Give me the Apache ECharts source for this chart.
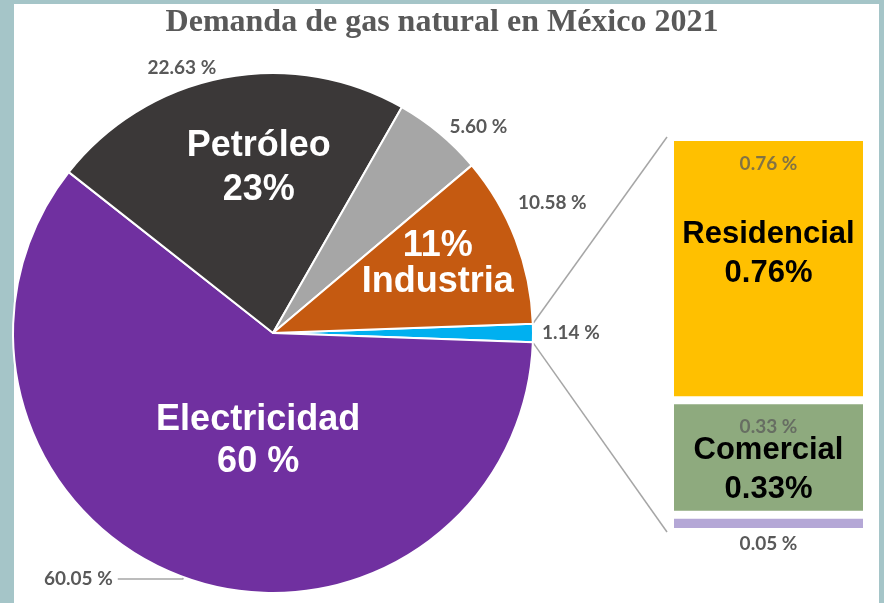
<!DOCTYPE html>
<html>
<head>
<meta charset="utf-8">
<script src="https://cdn.jsdelivr.net/npm/echarts@6/dist/echarts.min.js"></script>
<style>
html,body{margin:0;padding:0;background:#a5c5c8;}
#main{width:884px;height:603px;}
</style>
</head>
<body>
<div id="main"></div>
<script>
// sectores del pastel, en sentido horario desde la rebanada azul
const sectores = ['Residencial y comercial', 'Electricidad', 'Petróleo', 'Otros', 'Industria'];
const demanda = [1.14, 60.05, 22.63, 5.60, 10.58];
const etiquetas = ['', 'Electricidad\n60 %', 'Petróleo\n23%', '', '11%\nIndustria'];
const colores = ['#00b0f0', '#7030a0', '#3b3838', '#a6a6a6', '#c55a11'];

// desglose de la rebanada azul (de abajo hacia arriba)
const desglose = ['Otro', 'Comercial', 'Residencial'];
const demandaDesglose = [0.05, 0.33, 0.76];
const etiquetasDesglose = ['', 'Comercial\n0.33%', 'Residencial\n0.76%'];
const coloresDesglose = ['#b4a7d6', '#8eaa7e', '#ffc000'];

const cx = 273, cy = 333, R = 260;
const barra = {left: 670, top: 137, width: 197, height: 395};

const total = demanda.reduce((a, b) => a + b, 0);
const totalDesglose = demandaDesglose.reduce((a, b) => a + b, 0);
const inicio = demanda[0] / total * 180;   // la rebanada azul queda centrada a la derecha
const rad = inicio * Math.PI / 180;

const chart = echarts.init(document.getElementById('main'));

const gris = '#595959';
const fuenteChica = {fontFamily: 'Lato', fontWeight: 'bold', fontSize: 19, color: gris};

// ajustes de cada etiqueta del pastel
const lineas = [
    {show: false, length: 4, length2: 0},
    {show: true, length: 2, length2: 65},
    {show: false, length: 10, length2: 0},
    {show: false, length: 8, length2: 0},
    {show: false, length: 10, length2: 0}
];
const desplaza = [[0, 0], [43, -50], [18, 0], [0, 0], [8, -8]];
const altoLinea = [42, 42, 44, 42, 36];

chart.setOption({
    title: {
        text: 'Demanda de gas natural en México 2021',
        left: 'center',
        top: 2,
        textStyle: {fontFamily: 'Liberation Serif', fontWeight: 'bold', fontSize: 32, color: gris}
    },
    graphic: [
        {type: 'rect', z: -10, shape: {x: 14, y: 4, width: 865, height: 600}, style: {fill: '#fff'}},
        {type: 'line', shape: {x1: cx + R * Math.cos(rad), y1: cy - R * Math.sin(rad), x2: barra.left - 3, y2: barra.top},
            style: {stroke: '#a6a6a6', lineWidth: 1.5}},
        {type: 'line', shape: {x1: cx + R * Math.cos(rad), y1: cy + R * Math.sin(rad), x2: barra.left - 3, y2: barra.top + barra.height},
            style: {stroke: '#a6a6a6', lineWidth: 1.5}}
    ],
    grid: barra,
    xAxis: {type: 'category', data: ['desglose'], show: false},
    yAxis: {type: 'value', min: 0, max: totalDesglose, show: false},
    series: [
        {
            type: 'pie',
            center: [cx, cy],
            radius: R,
            startAngle: inicio,
            clockwise: true,
            avoidLabelOverlap: false,
            silent: true,
            itemStyle: {borderColor: '#fff', borderWidth: 2},
            label: Object.assign({position: 'outside', formatter: p => p.value.toFixed(2) + ' %'}, fuenteChica),
            labelLine: {lineStyle: {color: '#a6a6a6', width: 1.5}},
            labelLayout: p => p.dataIndex === 4 ? {dx: -12, dy: -33} : {},
            data: sectores.map((n, i) => ({
                name: n, value: demanda[i],
                itemStyle: {color: colores[i]},
                labelLine: lineas[i]
            }))
        },
        {
            // solo las etiquetas grandes
            type: 'pie',
            center: [cx, cy],
            radius: 330,
            startAngle: inicio,
            clockwise: true,
            silent: true,
            itemStyle: {color: 'rgba(0,0,0,0)', borderWidth: 0},
            label: {
                position: 'inside',
                formatter: p => etiquetas[p.dataIndex],
                fontFamily: 'Liberation Sans', fontWeight: 'bold', fontSize: 36, color: '#fff'
            },
            labelLine: {show: false},
            data: sectores.map((n, i) => ({
                name: n, value: demanda[i],
                label: {offset: desplaza[i], lineHeight: altoLinea[i]}
            }))
        },
        ...desglose.map((n, i) => ({
            type: 'bar',
            name: n,
            stack: 'a',
            barWidth: '100%',
            silent: true,
            data: [demandaDesglose[i]],
            itemStyle: {color: coloresDesglose[i], borderColor: '#fff', borderWidth: 4},
            label: {
                show: true,
                position: i === 0 ? 'bottom' : 'insideTop',
                distance: i === 0 ? 2 : 17,
                formatter: p => p.value.toFixed(2) + ' %',
                fontFamily: 'Lato', fontWeight: 'bold', fontSize: 19,
                color: i === 0 ? gris : 'rgba(89,89,89,0.75)'
            }
        })),
        ...desglose.map((n, i) => ({
            type: 'bar',
            name: n + ' etiqueta',
            stack: 'b',
            barWidth: '100%',
            barGap: '-100%',
            silent: true,
            data: [demandaDesglose[i]],
            itemStyle: {color: 'rgba(0,0,0,0)'},
            label: {
                show: true,
                position: 'inside',
                offset: [0, [0, 12, -15][i]],
                formatter: () => etiquetasDesglose[i],
                fontFamily: 'Liberation Sans', fontWeight: 'bold', fontSize: 31, lineHeight: 39, color: '#000'
            }
        }))
    ]
});
</script>
</body>
</html>
